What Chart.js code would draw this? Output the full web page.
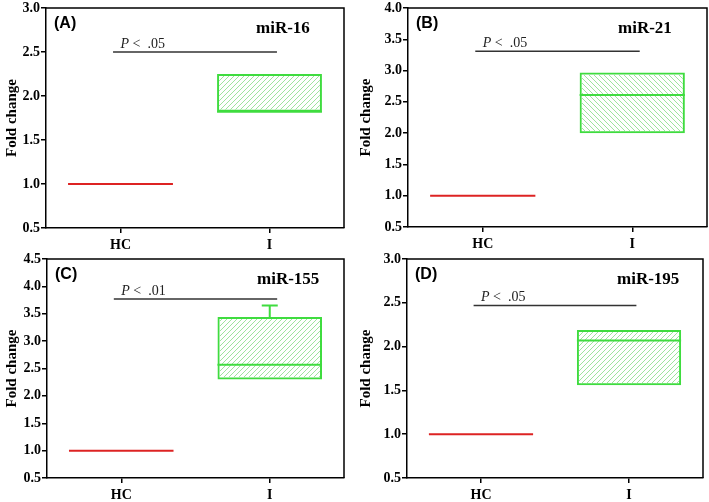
<!DOCTYPE html>
<html>
<head>
<meta charset="utf-8">
<script src="https://cdn.jsdelivr.net/npm/chart.js@4"></script>
<style>
  body { margin: 0; background: #fff; }
  #wrap { position: relative; width: 709px; height: 502px; }
  canvas { position: absolute; }
</style>
</head>
<body>
<div id="wrap">
  <canvas id="c0" width="354" height="251" style="left:0;top:0"></canvas>
  <canvas id="c1" width="355" height="251" style="left:354px;top:0"></canvas>
  <canvas id="c2" width="354" height="251" style="left:0;top:251px"></canvas>
  <canvas id="c3" width="355" height="251" style="left:354px;top:251px"></canvas>
</div>
<script>
// data
const categories = ['HC', 'I'];
const panelTags = ['(A)', '(B)', '(C)', '(D)'];
const genes = ['miR-16', 'miR-21', 'miR-155', 'miR-195'];
const pValues = ['.05', '.05', '.01', '.05'];
const q1 = [[1.0, 1.82], [1.0, 2.00], [1.0, 2.30], [1.0, 1.56]];
const median = [[1.0, 1.82], [1.0, 2.61], [1.0, 2.57], [1.0, 2.07]];
const q3 = [[1.0, 2.25], [1.0, 2.97], [1.0, 3.44], [1.0, 2.19]];
const upper = [[1.0, 2.25], [1.0, 2.97], [1.0, 3.65], [1.0, 2.19]];
const sigLevel = [2.50, 3.31, 3.77, 2.47];
const yMin = [0.5, 0.5, 0.5, 0.5];
const yMax = [3.0, 4.0, 4.5, 3.0];

// layout of each panel (pixels)
const axisW = [46, 54, 47, 53];
const axisH = [23, 24, 24, 24];
const padTop = [6, 7, 6, 6];
const padRight = [10, 2, 10, 6];
const hatchDir = ['/', '\\', '/', '/'];

const green = '#3fdc3f';
const red = '#dd2323';
const serif = '"Liberation Serif", "Times New Roman", serif';

function hatch(dir) {
    var c = document.createElement('canvas');
    c.width = 5; c.height = 5;
    var g = c.getContext('2d');
    g.strokeStyle = '#9fe39f';
    g.lineWidth = 1;
    g.beginPath();
    if (dir === '/') {
        g.moveTo(-1, 6); g.lineTo(6, -1);
        g.moveTo(-1, 1); g.lineTo(1, -1);
        g.moveTo(4, 6); g.lineTo(6, 4);
    } else {
        g.moveTo(-1, -1); g.lineTo(6, 6);
        g.moveTo(4, -1); g.lineTo(6, 1);
        g.moveTo(-1, 4); g.lineTo(1, 6);
    }
    g.stroke();
    return g.createPattern(c, 'repeat');
}

function makePanel(i) {
    var ctx = document.getElementById('c' + i).getContext('2d');

    var boxParts = {
        id: 'boxParts',
        afterDatasetsDraw: function (chart) {
            var c = chart.ctx;
            var x = chart.scales.x, y = chart.scales.y;
            var meta = chart.getDatasetMeta(0);
            c.save();
            meta.data.forEach(function (el, j) {
                var half = el.width / 2;
                c.strokeStyle = j === 0 ? red : green;
                c.lineWidth = 2;
                // median
                var ym = y.getPixelForValue(median[i][j]);
                c.beginPath();
                c.moveTo(el.x - half, ym); c.lineTo(el.x + half, ym);
                c.stroke();
                // upper whisker
                if (upper[i][j] > q3[i][j]) {
                    var yt = y.getPixelForValue(q3[i][j]);
                    var yw = y.getPixelForValue(upper[i][j]);
                    c.beginPath();
                    c.moveTo(el.x, yt); c.lineTo(el.x, yw);
                    c.moveTo(el.x - 8, yw); c.lineTo(el.x + 8, yw);
                    c.stroke();
                }
            });
            // significance bar
            var ys = y.getPixelForValue(sigLevel[i]);
            c.strokeStyle = '#333';
            c.lineWidth = 1.5;
            c.beginPath();
            c.moveTo(x.getPixelForValue(-0.05), ys);
            c.lineTo(x.getPixelForValue(1.05), ys);
            c.stroke();
            c.fillStyle = '#222';
            c.textBaseline = 'alphabetic';
            c.textAlign = 'left';
            var px = x.getPixelForValue(0);
            c.font = 'italic 14px ' + serif;
            c.fillText('P', px, ys - 4);
            var pw = c.measureText('P ').width;
            c.font = '14px ' + serif;
            c.fillText('<  ' + pValues[i], px + pw, ys - 4);
            c.restore();
        },
        afterDraw: function (chart) {
            var a = chart.chartArea, c = chart.ctx;
            c.save();
            c.strokeStyle = '#000';
            c.lineWidth = 1.5;
            c.beginPath();
            c.moveTo(a.left, a.top); c.lineTo(a.right, a.top); c.lineTo(a.right, a.bottom);
            c.stroke();
            c.fillStyle = '#000';
            c.textBaseline = 'middle';
            c.font = 'bold 16px "Liberation Sans", Arial, sans-serif';
            c.fillText(panelTags[i], a.left + 8, a.top + 16);
            c.font = 'bold 17px ' + serif;
            c.fillText(genes[i], a.left + 210, a.top + 21);
            c.restore();
        }
    };

    return new Chart(ctx, {
        type: 'bar',
        data: {
            labels: categories,
            datasets: [{
                data: categories.map(function (_, j) { return [q1[i][j], q3[i][j]]; }),
                backgroundColor: ['rgba(0,0,0,0)', hatch(hatchDir[i])],
                borderColor: ['rgba(0,0,0,0)', green],
                borderWidth: [0, 2],
                borderSkipped: false,
                barPercentage: 0.88,
                categoryPercentage: 0.8
            }]
        },
        options: {
            responsive: false,
            animation: false,
            layout: { padding: { top: padTop[i], right: padRight[i], left: 0, bottom: 0 } },
            plugins: {
                legend: { display: false },
                tooltip: { enabled: false }
            },
            scales: {
                x: {
                    afterFit: function (s) { s.height = axisH[i]; },
                    grid: { offset: false, drawOnChartArea: false, tickLength: 5, color: '#000', lineWidth: 1.5 },
                    border: { color: '#000', width: 1.5 },
                    ticks: { color: '#000', padding: 4, font: { family: serif, size: 14, weight: 'bold' } }
                },
                y: {
                    min: yMin[i],
                    max: yMax[i],
                    afterFit: function (s) { s.width = axisW[i]; },
                    grid: { drawOnChartArea: false, tickLength: 5, color: '#000', lineWidth: 1.5 },
                    border: { color: '#000', width: 1.5 },
                    ticks: {
                        stepSize: 0.5,
                        color: '#000',
                        padding: 1,
                        font: { family: serif, size: 14, weight: 'bold', lineHeight: 1 },
                        callback: function (v) { return v.toFixed(1); }
                    },
                    title: {
                        display: true,
                        text: 'Fold change',
                        color: '#000',
                        padding: { top: 3, bottom: 0 },
                        font: { family: serif, size: 15, weight: 'bold' }
                    }
                }
            }
        },
        plugins: [boxParts]
    });
}

for (var i = 0; i < 4; i++) makePanel(i);
</script>
</body>
</html>
